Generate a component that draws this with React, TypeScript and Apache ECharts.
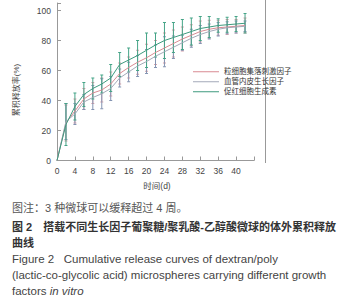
import React, { useEffect, useRef } from "react";
import * as echarts from "echarts";

const days = [0, 2, 4, 6, 8, 10, 12, 14, 16, 18, 20, 22, 24, 26, 28, 30, 32, 34, 36, 38, 40, 42];
const gcsf = [0, 25, 33, 41, 45, 47, 51, 58, 62, 65.5, 68.5, 72, 75, 78, 81, 83.5, 86, 87.5, 88.5, 89, 89.5, 90];
const vegf = [0, 26, 31, 39, 42, 44.5, 48, 55, 59, 63, 66, 69.5, 72.5, 75.5, 78.5, 81.5, 84, 86, 87.5, 88.5, 89, 89.5];
const epo = [0, 24, 36, 44, 48, 51, 55, 64, 67, 70, 73.5, 77, 80, 82, 84, 86, 88, 89, 90, 90.5, 91, 91.5];
const gcsfErr = [0, 12, 8, 7, 7, 8, 8, 7, 7, 8, 9, 8, 10, 9, 8, 7, 7, 6, 5, 5, 4.5, 5];
const vegfErr = [0, 12, 7, 5, 8, 10, 8, 6, 6.5, 7, 8, 7.5, 10, 7.5, 5, 6, 6, 5, 4.5, 4, 4, 3.5];
const epoErr = [0, 14, 9, 8, 7, 6, 9, 8, 8, 10, 11.5, 8, 12, 10, 10, 9, 8, 7, 4.5, 5, 5, 6.5];

const seriesNames = ["粒细胞集落刺激因子", "血管内皮生长因子", "促红细胞生成素"];
const xTicks = [0, 4, 8, 12, 16, 20, 24, 28, 32, 36, 40];
const yTicks = [0, 20, 40, 60, 80, 100];

const captionLines = [
  "图注：3 种微球可以缓释超过 4 周。",
  "图 2　搭载不同生长因子葡聚糖/聚乳酸-乙醇酸微球的体外累积释放",
  "曲线",
  "Figure 2   Cumulative release curves of dextran/poly",
  "(lactic-co-glycolic acid) microspheres carrying different growth",
];

const FONT = "'Liberation Sans', Arial, 'Noto Sans CJK SC', sans-serif";

export default function App() {
  const ref = useRef<HTMLDivElement>(null);
  useEffect(() => {
    if (!ref.current) return;
    const chart = echarts.init(ref.current, null, { renderer: "svg" });
    const lineColors = ["#d88a92", "#a3a9b8", "#3e9a7e"];
    const barColors = ["#d9a0a8", "#8494b2", "#45a487"];
    const means = [gcsf, vegf, epo];
    const errs = [gcsfErr, vegfErr, epoErr];

    const errSeries = [0, 1, 2].map((k) => ({
      type: "custom",
      silent: true,
      z: k === 0 ? 1 : 2 + k,
      data: days
        .map((d, i) => [d, means[k][i] - errs[k][i], means[k][i] + errs[k][i]])
        .filter((r) => r[0] > 0),
      renderItem: (params: any, api: any) => {
        const x = api.value(0);
        const p1 = api.coord([x, api.value(1)]);
        const p2 = api.coord([x, api.value(2)]);
        const w = 1.5;
        const st = { stroke: barColors[k], lineWidth: 1 };
        return {
          type: "group",
          children: [
            { type: "line", shape: { x1: p1[0], y1: p1[1], x2: p2[0], y2: p2[1] }, style: st },
            { type: "line", shape: { x1: p1[0] - w, y1: p1[1], x2: p1[0] + w, y2: p1[1] }, style: st },
            { type: "line", shape: { x1: p2[0] - w, y1: p2[1], x2: p2[0] + w, y2: p2[1] }, style: st },
          ],
        };
      },
    }));

    const lineSeries = [0, 1, 2].map((k) => ({
      type: "line",
      name: seriesNames[k],
      data: days.map((d, i) => [d, means[k][i]]),
      symbol: "none",
      z: 10,
      lineStyle: { color: lineColors[k], width: 1 },
      itemStyle: { color: lineColors[k] },
    }));

    const captionStyles = [
      { y: 208, fontSize: 11, fontWeight: "normal", fill: "#555" },
      { y: 227, fontSize: 11, fontWeight: "bold", fill: "#333" },
      { y: 243, fontSize: 11, fontWeight: "bold", fill: "#333" },
      { y: 259, fontSize: 11.5, fontWeight: "normal", fill: "#444" },
      { y: 275, fontSize: 11.5, fontWeight: "normal", fill: "#444" },
    ];

    chart.setOption({
      animation: false,
      grid: { left: 57, right: 96, top: 3, bottom: 139.5, containLabel: false },
      xAxis: {
        type: "value",
        min: 0,
        max: 44,
        interval: 4,
        axisLine: { lineStyle: { color: "#999", width: 1 } },
        axisTick: { inside: true, length: 4, lineStyle: { color: "#999" } },
        splitLine: { show: false },
        axisLabel: {
          margin: 6,
          fontSize: 8.5,
          color: "#444",
          fontFamily: FONT,
          formatter: (v: number) => (xTicks.includes(v) ? String(v) : ""),
        },
      },
      yAxis: {
        type: "value",
        min: 0,
        max: 105,
        interval: 20,
        axisLine: { show: true, lineStyle: { color: "#999", width: 1 } },
        axisTick: { show: true, inside: true, length: 4, lineStyle: { color: "#999" } },
        splitLine: { show: false },
        axisLabel: {
          margin: 6,
          fontSize: 8.5,
          color: "#444",
          fontFamily: FONT,
          formatter: (v: number) => (yTicks.includes(v) ? String(v) : ""),
        },
      },
      legend: {
        orient: "vertical",
        left: 193,
        top: 68,
        itemWidth: 26,
        itemHeight: 1,
        itemGap: 2.5,
        padding: 0,
        icon: "rect",
        data: seriesNames,
        textStyle: { fontSize: 7.5, color: "#333", fontFamily: FONT, lineHeight: 7 },
      },
      graphic: [
        {
          type: "line",
          silent: true,
          shape: { x1: 265.5, y1: 0, x2: 265.5, y2: 163 },
          style: { stroke: "#999", lineWidth: 1 },
        },
        {
          type: "text",
          x: 16,
          y: 90,
          rotation: Math.PI / 2,
          style: {
            text: "累积释放率(%)",
            fontSize: 8,
            fill: "#444",
            fontFamily: FONT,
            align: "center",
            verticalAlign: "middle",
          },
        },
        {
          type: "text",
          x: 157,
          y: 186,
          style: {
            text: "时间(d)",
            fontSize: 8.5,
            fill: "#444",
            fontFamily: FONT,
            align: "center",
            verticalAlign: "middle",
          },
        },
        ...captionLines.map((t, i) => ({
          type: "text",
          x: 12,
          y: captionStyles[i].y,
          style: {
            text: t,
            fontSize: captionStyles[i].fontSize,
            fontWeight: captionStyles[i].fontWeight,
            fill: captionStyles[i].fill,
            fontFamily: FONT,
            align: "left",
            verticalAlign: "middle",
          },
        })),
        {
          type: "text",
          x: 12,
          y: 291,
          style: {
            rich: {
              n: { fontSize: 11.5, fill: "#444", fontFamily: FONT },
              i: { fontSize: 11.5, fill: "#444", fontFamily: FONT, fontStyle: "italic" },
            },
            text: "{n|factors }{i|in vitro}",
            align: "left",
            verticalAlign: "middle",
          },
        },
      ],
      series: [...errSeries, ...lineSeries],
    });
    return () => chart.dispose();
  }, []);
  return (
    <div
      ref={ref}
      style={{ position: "fixed", left: 0, top: 0, width: 350, height: 300, background: "#fff" }}
    />
  );
}
